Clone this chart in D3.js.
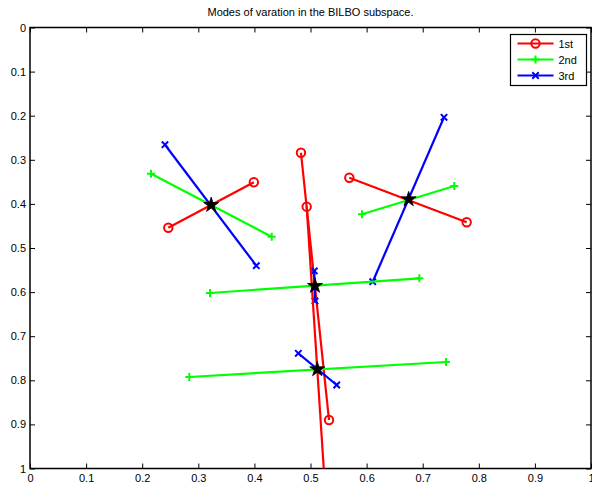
<!DOCTYPE html>
<html>
<head>
<meta charset="utf-8">
<script src="https://cdn.jsdelivr.net/npm/d3@7"></script>
<style>
html,body{margin:0;padding:0;background:#fff;}
svg{display:block;font-family:"Liberation Sans",Arial,Helvetica,sans-serif;}
</style>
</head>
<body>
<svg id="chart" width="592" height="484"></svg>
<script>
// ---- data ----
const titleText = "Modes of varation in the BILBO subspace.";
const xTicks = [0,0.1,0.2,0.3,0.4,0.5,0.6,0.7,0.8,0.9,1];
const yTicks = [0,0.1,0.2,0.3,0.4,0.5,0.6,0.7,0.8,0.9,1];
const seriesNames = ["1st","2nd","3rd"];
// mean shapes (star markers)
const centerX = [0.323, 0.675, 0.508, 0.512];
const centerY = [0.4025, 0.3896, 0.586, 0.775];
// 1st mode endpoints
const mode1StartX = [0.399, 0.5692, 0.483, 0.4932];
const mode1StartY = [0.351, 0.3406, 0.284, 0.4063];
const mode1EndX   = [0.2465, 0.7784, 0.533, 0.531];
const mode1EndY   = [0.454, 0.4417, 0.890, 1.144];
// 2nd mode endpoints
const mode2StartX = [0.2157, 0.5918, 0.3209, 0.284];
const mode2StartY = [0.3315, 0.4236, 0.602, 0.7925];
const mode2EndX   = [0.4308, 0.7563, 0.694, 0.7415];
const mode2EndY   = [0.4744, 0.3594, 0.5687, 0.7585];
// 3rd mode endpoints
const mode3StartX = [0.2406, 0.738, 0.5068, 0.4783];
const mode3StartY = [0.2658, 0.2036, 0.552, 0.7388];
const mode3EndX   = [0.4034, 0.6109, 0.508, 0.5467];
const mode3EndY   = [0.5401, 0.5764, 0.620, 0.8107];

// ---- layout ----
const svg = d3.select("#chart");
const PL = 30, PR = 591, PT = 27.5, PB = 468.5;
const xScale = d3.scaleLinear().domain([0,1]).range([PL,PR]);
const yScale = d3.scaleLinear().domain([0,1]).range([PT,PB]);

svg.append("defs").append("clipPath").attr("id","clip")
  .append("rect").attr("x",PL).attr("y",PT).attr("width",PR-PL).attr("height",PB-PT);

// title
svg.append("text").attr("x",(PL+PR)/2).attr("y",16).attr("text-anchor","middle")
  .attr("font-size",11).attr("fill","#000").text(titleText);

// axes
const tickLen = 5;
const axG = svg.append("g");
axG.append("g").attr("transform",`translate(0,${PB})`)
  .call(d3.axisBottom(xScale).tickValues(xTicks).tickFormat(d3.format("~g")).tickSizeInner(-tickLen).tickSizeOuter(0).tickPadding(6));
axG.append("g").attr("transform",`translate(0,${PT})`)
  .call(d3.axisTop(xScale).tickValues(xTicks).tickFormat("").tickSizeInner(-tickLen).tickSizeOuter(0));
axG.append("g").attr("transform",`translate(${PL},0)`)
  .call(d3.axisLeft(yScale).tickValues(yTicks).tickFormat(d3.format("~g")).tickSizeInner(-tickLen).tickSizeOuter(0).tickPadding(4));
axG.append("g").attr("transform",`translate(${PR},0)`)
  .call(d3.axisRight(yScale).tickValues(yTicks).tickFormat("").tickSizeInner(-tickLen).tickSizeOuter(0));
axG.selectAll(".domain").remove();
axG.selectAll("text").attr("font-size",11).attr("fill","#000")
  .style("font-family",'"Liberation Sans",Arial,sans-serif');
axG.selectAll(".tick line").attr("stroke","#000").attr("stroke-width",1);
svg.append("rect").attr("x",PL).attr("y",PT).attr("width",PR-PL).attr("height",PB-PT)
  .attr("fill","none").attr("stroke","#000").attr("stroke-width",1.5);

// markers
function drawMarker(g, type, cx, cy, color){
  if(type==="o"){
    g.append("circle").attr("cx",cx).attr("cy",cy).attr("r",4.2)
      .attr("fill","none").attr("stroke",color).attr("stroke-width",2);
  } else if(type==="+"){
    const s=4;
    g.append("path").attr("d",`M${cx-s},${cy}H${cx+s}M${cx},${cy-s}V${cy+s}`)
      .attr("stroke",color).attr("stroke-width",2).attr("fill","none");
  } else if(type==="x"){
    const s=3.2;
    g.append("path").attr("d",`M${cx-s},${cy-s}L${cx+s},${cy+s}M${cx-s},${cy+s}L${cx+s},${cy-s}`)
      .attr("stroke",color).attr("stroke-width",2).attr("fill","none");
  }
}

const modes = [
  {name:seriesNames[0], color:"#ff0000", marker:"o", sx:mode1StartX, sy:mode1StartY, ex:mode1EndX, ey:mode1EndY},
  {name:seriesNames[1], color:"#00ff00", marker:"+", sx:mode2StartX, sy:mode2StartY, ex:mode2EndX, ey:mode2EndY},
  {name:seriesNames[2], color:"#0000ff", marker:"x", sx:mode3StartX, sy:mode3StartY, ex:mode3EndX, ey:mode3EndY}
];

const plot = svg.append("g").attr("clip-path","url(#clip)");
centerX.forEach((c,i)=>{
  modes.forEach(m=>{
    const g = plot.append("g");
    g.append("line")
      .attr("x1",xScale(m.sx[i])).attr("y1",yScale(m.sy[i]))
      .attr("x2",xScale(m.ex[i])).attr("y2",yScale(m.ey[i]))
      .attr("stroke",m.color).attr("stroke-width",2.2);
    drawMarker(g,m.marker,xScale(m.sx[i]),yScale(m.sy[i]),m.color);
    drawMarker(g,m.marker,xScale(m.ex[i]),yScale(m.ey[i]),m.color);
  });
});
// stars
plot.selectAll("path.star").data(centerX.map((c,i)=>[c,centerY[i]])).enter()
  .append("path").attr("class","star")
  .attr("d",d3.symbol().type(d3.symbolStar).size(70))
  .attr("transform",d=>`translate(${xScale(d[0])},${yScale(d[1])})`)
  .attr("fill","#000").attr("stroke","#000").attr("stroke-width",0.8);

// legend
const lg = svg.append("g");
const lx = 510.5, ly = 34.5, lw = 76, lh = 51;
lg.append("rect").attr("x",lx).attr("y",ly).attr("width",lw).attr("height",lh)
  .attr("fill","#fff").attr("stroke","#000").attr("stroke-width",1.2);
modes.forEach((m,k)=>{
  const yy = ly + 9 + k*16;
  lg.append("line").attr("x1",lx+7).attr("x2",lx+43).attr("y1",yy).attr("y2",yy)
    .attr("stroke",m.color).attr("stroke-width",2.2);
  drawMarker(lg,m.marker,lx+25,yy,m.color);
  lg.append("text").attr("x",lx+48).attr("y",yy+4).attr("font-size",11)
    .attr("fill","#000").text(m.name);
});
</script>
</body>
</html>
